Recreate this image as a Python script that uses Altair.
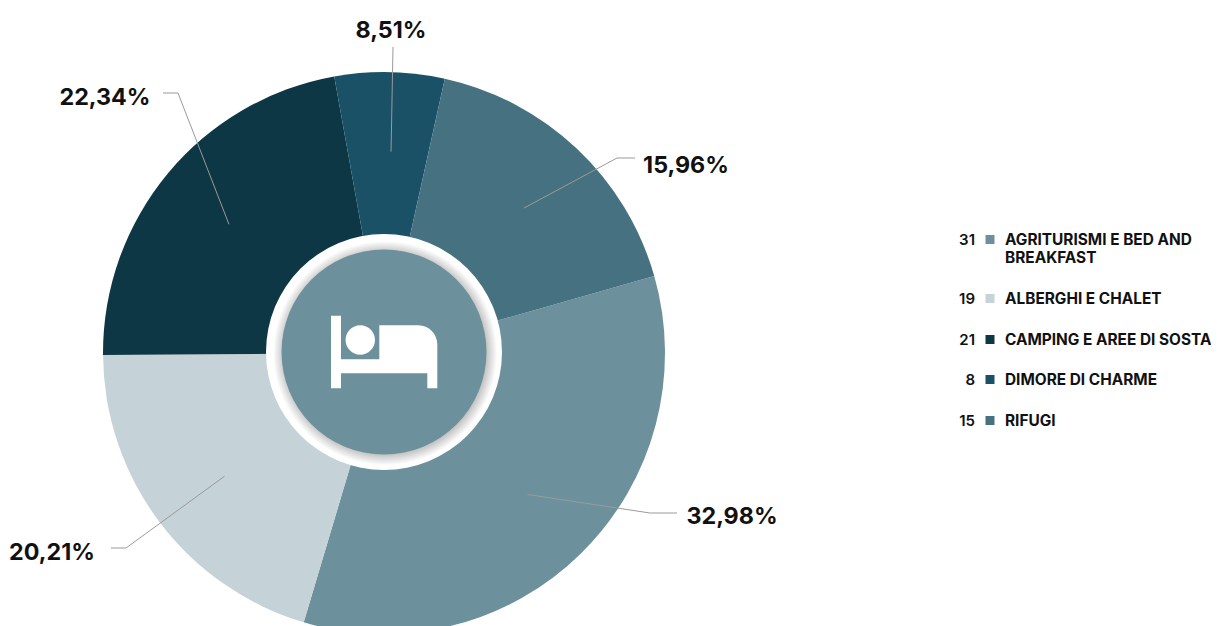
import math
import altair as alt
import pandas as pd

names = ["AGRITURISMI E BED AND\nBREAKFAST", "ALBERGHI E CHALET", "CAMPING E AREE DI SOSTA", "DIMORE DI CHARME", "RIFUGI"]
counts = [31, 19, 21, 8, 15]
shares = ["32,98%", "20,21%", "22,34%", "8,51%", "15,96%"]
# Slice spans (degrees) as actually drawn in the picture, read from the slice edges
drawn_span = [122.5, 73.0, 80.2, 22.7, 61.6]
# Bearing of each leader line's inner end
leader_bearing = [134.6, 232.3, 309.7, 2.0, 44.0]
colors = ["#6d909d", "#c5d3d9", "#0e3746", "#1a5166", "#467181"]

FONT = "Inter"
M = 8
W, H = 1203, 618
CX, CY, R = 384 - M, 353 - M, 281
START = 74.1

pie = pd.DataFrame({"i": range(5), "name": names, "span": drawn_span})

# Leader lines: start inside the slice, then bend to a short tail by the label
elbow_tail = [((650, 513), (677, 513)), ((126, 548), (111, 548)), ((178, 93), (163, 93)),
              ((393, 47), (393, 47)), ((617, 158), (635, 158))]
label_pos = [(732, 517), (52, 553), (105, 98), (391, 31), (686, 166)]
rows = []
for i, bearing in enumerate(leader_bearing):
    b = math.radians(bearing)
    rows.append({"s": i, "o": 0, "x": CX + 201.5 * math.sin(b), "y": CY - 201.5 * math.cos(b)})
    (ex, ey), (tx, ty) = elbow_tail[i]
    rows.append({"s": i, "o": 1, "x": ex - M, "y": ey - M})
    rows.append({"s": i, "o": 2, "x": tx - M, "y": ty - M})
leaders = pd.DataFrame(rows)
labels = pd.DataFrame({"t": shares, "x": [p[0] - M for p in label_pos], "y": [p[1] - M for p in label_pos]})

legend_y = [239.5, 298.5, 339.5, 379.5, 420.5]
legend = pd.DataFrame({"name": names, "c": [str(c) for c in counts], "y": [y - M for y in legend_y], "i": range(5)})

color = alt.Color("name:N", scale=alt.Scale(domain=names, range=colors), legend=None)
px = lambda f: alt.X(f, scale=None, axis=None)
py = lambda f: alt.Y(f, scale=None, axis=None)

arcs = alt.Chart(pie).mark_arc(outerRadius=R, innerRadius=0, stroke=None).encode(
    theta=alt.Theta("span:Q", stack=True, scale=alt.Scale(
        domain=[0, 360], range=[math.radians(START), math.radians(START + 360)])),
    order=alt.Order("i:Q"),
    color=color,
    x=alt.value(CX), y=alt.value(CY),
)

disc = pd.DataFrame({"k": [0]})
ring_fill = {
    "gradient": "radial", "x1": 0.505, "y1": 0.505, "x2": 0.505, "y2": 0.505, "r1": 0, "r2": 0.5,
    "stops": [{"offset": 0, "color": "#bebebe"}, {"offset": 0.85, "color": "#bebebe"},
              {"offset": 0.95, "color": "#ffffff"}, {"offset": 1, "color": "#ffffff"}],
}
ring = alt.Chart(disc).mark_arc(outerRadius=118, innerRadius=0, theta=0, theta2=2 * math.pi,
                                fill=ring_fill).encode(x=alt.value(CX), y=alt.value(CY - 1))
inner = alt.Chart(disc).mark_arc(outerRadius=102.5, innerRadius=0, theta=0, theta2=2 * math.pi,
                                 fill="#6d909d").encode(x=alt.value(CX), y=alt.value(CY - 1))

BED = ("M-53 -36.3H-43V7.3H-4.7V-26.7H34.3C45 -26.7 53.3 -18 53.3 -7.7V36.3H43.3V21.3H-43V36.3H-53Z"
       "M-38.4 -12C-38.4 -20 -31.8 -26.7 -23.7 -26.7C-15.6 -26.7 -9 -20 -9 -12"
       "C-9 -4 -15.6 2.7 -23.7 2.7C-31.8 2.7 -38.4 -4 -38.4 -12Z")
bed = alt.Chart(disc).mark_point(shape=BED, size=4, filled=True, fill="#ffffff", opacity=1, strokeWidth=0).encode(
    x=alt.value(CX), y=alt.value(CY - 1))

lines = alt.Chart(leaders).mark_line(color="#9a9a9a", strokeWidth=1).encode(
    x=px("x:Q"), y=py("y:Q"), detail="s:N", order="o:Q")
share_text = alt.Chart(labels).mark_text(font=FONT, fontSize=23.3, fontWeight=700, color="#111111",
                                         align="center", baseline="middle").encode(
    x=px("x:Q"), y=py("y:Q"), text="t:N")

count_text = alt.Chart(legend).mark_text(font=FONT, fontSize=15, fontWeight=600, color="#111111",
                                         align="right", baseline="middle").encode(
    x=alt.value(975 - M), y=py("y:Q"), text="c:N")
swatch = alt.Chart(legend).mark_square(size=81, opacity=1).encode(
    x=alt.value(990 - M), y=py("y:Q"), color=color)
name_text = alt.Chart(legend).mark_text(font=FONT, fontSize=15.4, fontWeight=700, color="#111111",
                                        align="left", baseline="middle", lineBreak="\n", lineHeight=18.5).encode(
    x=alt.value(1005 - M), y=py("y:Q"), text="name:N")

chart = alt.layer(arcs, ring, inner, bed, lines, share_text, count_text, swatch, name_text).properties(
    width=W, height=H, padding=0, autosize=alt.AutoSizeParams(type="none"), background="#ffffff",
).configure_view(stroke=None)

chart.save("out.html", embed_options={"renderer": "svg", "actions": False})
